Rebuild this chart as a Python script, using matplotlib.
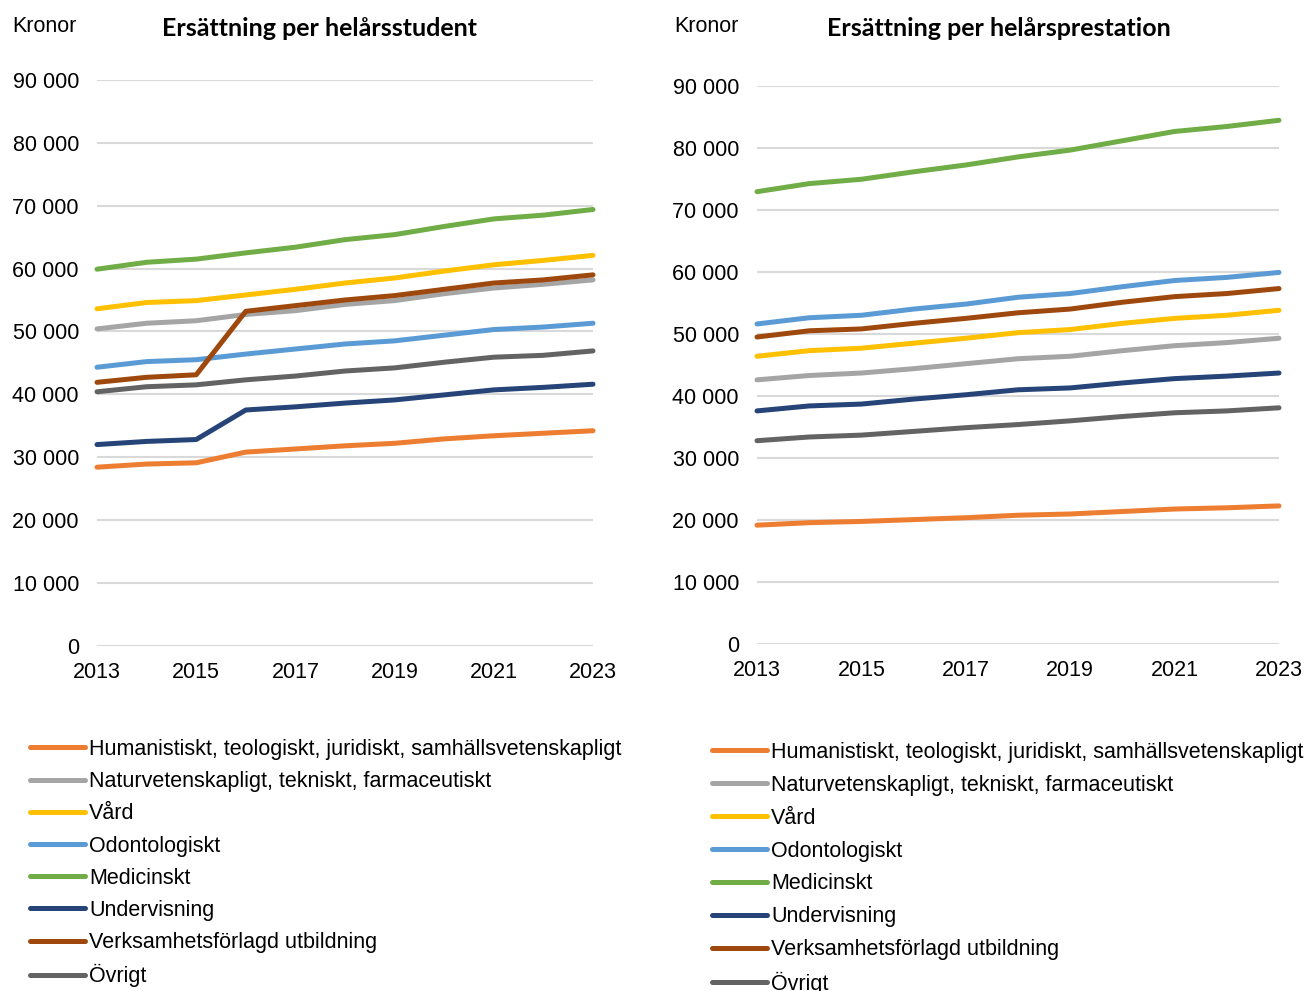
import matplotlib
matplotlib.use("Agg")
import matplotlib.pyplot as plt
from matplotlib.ticker import FuncFormatter

years = list(range(2013, 2024))

labels = [
    "Humanistiskt, teologiskt, juridiskt, samhällsvetenskapligt",
    "Naturvetenskapligt, tekniskt, farmaceutiskt",
    "Vård",
    "Odontologiskt",
    "Medicinskt",
    "Undervisning",
    "Verksamhetsförlagd utbildning",
    "Övrigt",
]
colors = ["#ED7D31", "#A5A5A5", "#FFC000", "#5B9BD5", "#70AD47", "#264478", "#9E480E", "#636363"]

# Ersättning per helårsstudent
hst_hum = [28400, 28900, 29100, 30800, 31300, 31800, 32200, 32900, 33400, 33800, 34200]
hst_nat = [50400, 51300, 51700, 52700, 53300, 54300, 54900, 56000, 56900, 57500, 58200]
hst_vard = [53600, 54600, 54900, 55800, 56700, 57700, 58500, 59600, 60600, 61300, 62100]
hst_odont = [44300, 45200, 45500, 46400, 47200, 48000, 48500, 49400, 50300, 50700, 51300]
hst_med = [59900, 61000, 61500, 62500, 63400, 64600, 65400, 66700, 67900, 68500, 69400]
hst_underv = [32000, 32500, 32800, 37500, 38000, 38600, 39100, 39900, 40700, 41100, 41600]
hst_vfu = [41900, 42700, 43100, 53200, 54100, 55000, 55700, 56700, 57700, 58200, 59000]
hst_ovr = [40400, 41200, 41500, 42300, 42900, 43700, 44200, 45100, 45900, 46200, 46900]

# Ersättning per helårsprestation
hpr_hum = [19200, 19600, 19800, 20100, 20400, 20800, 21000, 21400, 21800, 22000, 22300]
hpr_nat = [42600, 43300, 43700, 44400, 45200, 46000, 46400, 47300, 48100, 48600, 49300]
hpr_vard = [46400, 47300, 47700, 48500, 49300, 50200, 50700, 51700, 52500, 53000, 53800]
hpr_odont = [51600, 52600, 53000, 54000, 54800, 55900, 56500, 57600, 58600, 59100, 59900]
hpr_med = [72900, 74200, 74900, 76100, 77200, 78500, 79600, 81100, 82600, 83400, 84400]
hpr_underv = [37600, 38400, 38700, 39500, 40200, 41000, 41300, 42100, 42800, 43200, 43700]
hpr_vfu = [49500, 50500, 50800, 51700, 52500, 53400, 54000, 55100, 56000, 56500, 57300]
hpr_ovr = [32800, 33400, 33700, 34300, 34900, 35400, 36000, 36700, 37300, 37600, 38100]

hst = [hst_hum, hst_nat, hst_vard, hst_odont, hst_med, hst_underv, hst_vfu, hst_ovr]
hpr = [hpr_hum, hpr_nat, hpr_vard, hpr_odont, hpr_med, hpr_underv, hpr_vfu, hpr_ovr]

titles = ["Ersättning per helårsstudent", "Ersättning per helårsprestation"]
yticks = list(range(0, 90001, 10000))
xticks = [2013, 2015, 2017, 2019, 2021, 2023]

plt.rcParams["font.family"] = ["Liberation Sans", "DejaVu Sans"]

W, H = 1305, 991
fig = plt.figure(figsize=(W / 100, H / 100), dpi=100)

def fr(x0, x1, ytop, ybot):
    return [x0 / W, 1 - ybot / H, (x1 - x0) / W, (ybot - ytop) / H]

ax_specs = [
    dict(rect=fr(97, 593, 80, 645.7), title_x=320, kron_x=12, leg=(30, 739), ls=0.52),
    dict(rect=fr(757, 1279, 85.5, 644.4), title_x=999, kron_x=674, leg=(712, 742), ls=0.55),
]

fmt = FuncFormatter(lambda v, p: f"{int(v):,}".replace(",", " "))

for data, title, spec in zip([hst, hpr], titles, ax_specs):
    ax = fig.add_axes(spec["rect"])
    for vals, lab, col in zip(data, labels, colors):
        ax.plot(years, vals, color=col, lw=3.6, solid_capstyle="round", label=lab, clip_on=False)
    ax.set_xlim(2013, 2023)
    ax.set_ylim(0, 90000)
    ax.set_yticks(yticks)
    ax.set_xticks(xticks)
    ax.yaxis.set_major_formatter(fmt)
    ax.grid(axis="y", color="#D9D9D9", lw=1.5)
    ax.set_axisbelow(True)
    for s in ax.spines.values():
        s.set_visible(False)
    ax.tick_params(axis="both", length=0, labelsize=15.5, colors="black")
    ax.tick_params(axis="y", pad=13)
    ax.tick_params(axis="x", pad=11.5)
    fig.text(spec["title_x"] / W, 1 - 28 / H, title, ha="center", va="center",
             fontsize=18, fontweight="bold", family=["Lato", "DejaVu Sans"])
    fig.text(spec["kron_x"] / W, 1 - 26 / H, "Kronor", ha="left", va="center", fontsize=15.5)
    lx, ly = spec["leg"]
    fig.legend(*ax.get_legend_handles_labels(), loc="upper left",
               bbox_to_anchor=(lx / W, 1 - ly / H), frameon=False, fontsize=15.5,
               handlelength=2.55, handletextpad=0.2, labelspacing=spec["ls"],
               borderaxespad=0, borderpad=0)

fig.savefig("out.png", dpi=100)
